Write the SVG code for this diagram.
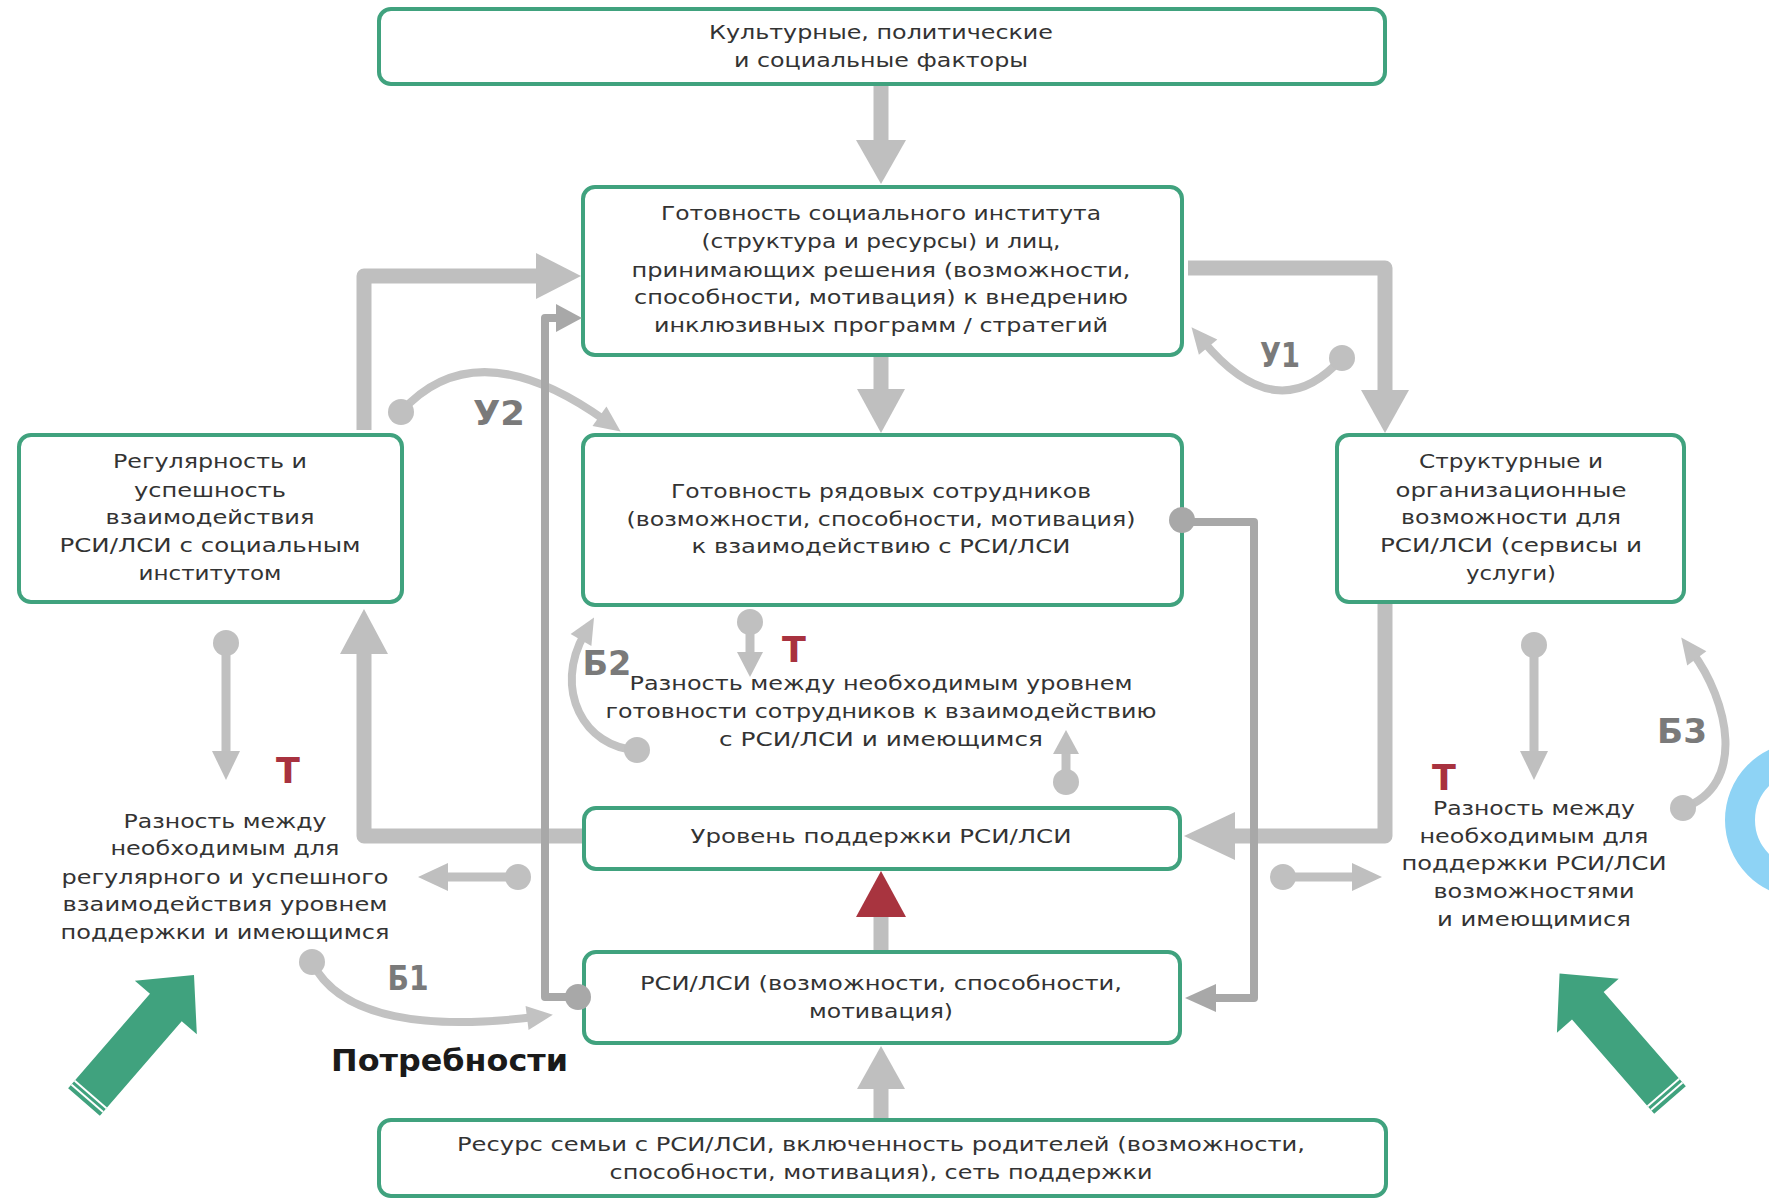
<svg xmlns="http://www.w3.org/2000/svg" width="1769" height="1199" viewBox="0 0 1769 1199">
<style>
.box{fill:#fff;stroke:#40a27e;stroke-width:4}
.t{font-family:"DejaVu Sans","Noto Sans",sans-serif;font-size:20px;fill:#333;text-anchor:middle}
.thick{fill:none;stroke:#bfbfbf;stroke-width:15;stroke-linejoin:round}
.thin{fill:none;stroke:#c0c0c0;stroke-width:9}
.dark{fill:none;stroke:#a8a8a8;stroke-width:8;stroke-linejoin:round}
.curve{fill:none;stroke:#c2c2c2;stroke-width:8}
.hl{fill:#bfbfbf}
.hd{fill:#a8a8a8}
.dot{fill:#c0c0c0}
.lbl{font-family:"DejaVu Sans","Noto Sans",sans-serif;font-weight:bold;font-size:34px;fill:#7a7a7a;text-anchor:middle}
.tt{font-family:"DejaVu Sans","Noto Sans",sans-serif;font-weight:bold;font-size:35px;fill:#a8323f;text-anchor:middle}
.garrow{fill:#40a27e}
</style>
<defs>
<marker id="ch" markerUnits="userSpaceOnUse" markerWidth="30" markerHeight="30" refX="8" refY="12" orient="auto" overflow="visible">
<path d="M0,0 L26,12 L0,24 Z" fill="#c2c2c2"/>
</marker>
<g id="garrowShape">
<polygon points="0,-21 125,-21 125,-41 168,0 125,41 125,21 0,21"/>
<line x1="5" y1="-21" x2="5" y2="21" stroke="#fff" stroke-width="2"/>
<line x1="10" y1="-21" x2="10" y2="21" stroke="#fff" stroke-width="2"/>
</g>
</defs>

<circle cx="1803" cy="820" r="63" fill="none" stroke="#8ed3f5" stroke-width="30"/>

<g id="n-top"><rect class="box" x="379" y="9" width="1006" height="75" rx="12"/>
<text class="t" x="881" y="39" textLength="344" lengthAdjust="spacingAndGlyphs">Культурные, политические</text>
<text class="t" x="881" y="67" textLength="294" lengthAdjust="spacingAndGlyphs">и социальные факторы</text></g>

<g id="n-inst"><rect class="box" x="583" y="187" width="599" height="168" rx="12"/>
<text class="t" x="881" y="220" textLength="440" lengthAdjust="spacingAndGlyphs">Готовность социального института</text>
<text class="t" x="881" y="248" textLength="359" lengthAdjust="spacingAndGlyphs">(структура и ресурсы) и лиц,</text>
<text class="t" x="881" y="277" textLength="499" lengthAdjust="spacingAndGlyphs">принимающих решения (возможности,</text>
<text class="t" x="881" y="304" textLength="494" lengthAdjust="spacingAndGlyphs">способности, мотивация) к внедрению</text>
<text class="t" x="881" y="332" textLength="454" lengthAdjust="spacingAndGlyphs">инклюзивных программ / стратегий</text></g>

<g id="n-staff"><rect class="box" x="583" y="435" width="599" height="170" rx="12"/>
<text class="t" x="881" y="498" textLength="420" lengthAdjust="spacingAndGlyphs">Готовность рядовых сотрудников</text>
<text class="t" x="881" y="526" textLength="509" lengthAdjust="spacingAndGlyphs">(возможности, способности, мотивация)</text>
<text class="t" x="881" y="553" textLength="379" lengthAdjust="spacingAndGlyphs">к взаимодействию с РСИ/ЛСИ</text></g>

<g id="n-regular"><rect class="box" x="19" y="435" width="383" height="167" rx="12"/>
<text class="t" x="210" y="468" textLength="194" lengthAdjust="spacingAndGlyphs">Регулярность и</text>
<text class="t" x="210" y="497" textLength="152" lengthAdjust="spacingAndGlyphs">успешность</text>
<text class="t" x="210" y="524" textLength="209" lengthAdjust="spacingAndGlyphs">взаимодействия</text>
<text class="t" x="210" y="552" textLength="301" lengthAdjust="spacingAndGlyphs">РСИ/ЛСИ с социальным</text>
<text class="t" x="210" y="580" textLength="143" lengthAdjust="spacingAndGlyphs">институтом</text></g>

<g id="n-struct"><rect class="box" x="1337" y="435" width="347" height="167" rx="12"/>
<text class="t" x="1511" y="468" textLength="184" lengthAdjust="spacingAndGlyphs">Структурные и</text>
<text class="t" x="1511" y="497" textLength="231" lengthAdjust="spacingAndGlyphs">организационные</text>
<text class="t" x="1511" y="524" textLength="220" lengthAdjust="spacingAndGlyphs">возможности для</text>
<text class="t" x="1511" y="552" textLength="262" lengthAdjust="spacingAndGlyphs">РСИ/ЛСИ (сервисы и</text>
<text class="t" x="1511" y="580" textLength="90" lengthAdjust="spacingAndGlyphs">услуги)</text></g>

<g id="n-level"><rect class="box" x="584" y="808" width="596" height="61" rx="12"/>
<text class="t" x="881" y="843" textLength="381" lengthAdjust="spacingAndGlyphs">Уровень поддержки РСИ/ЛСИ</text></g>

<g id="n-rsi"><rect class="box" x="584" y="952" width="596" height="91" rx="12"/>
<text class="t" x="881" y="990" textLength="482" lengthAdjust="spacingAndGlyphs">РСИ/ЛСИ (возможности, способности,</text>
<text class="t" x="881" y="1018" textLength="144" lengthAdjust="spacingAndGlyphs">мотивация)</text></g>

<g id="n-family"><rect class="box" x="379" y="1120" width="1007" height="76" rx="12"/>
<text class="t" x="881" y="1151" textLength="848" lengthAdjust="spacingAndGlyphs">Ресурс семьи с РСИ/ЛСИ, включенность родителей (возможности,</text>
<text class="t" x="881" y="1179" textLength="543" lengthAdjust="spacingAndGlyphs">способности, мотивация), сеть поддержки</text></g>

<g id="n-gap-staff">
<text class="t" x="881" y="690" textLength="503" lengthAdjust="spacingAndGlyphs">Разность между необходимым уровнем</text>
<text class="t" x="881" y="718" textLength="551" lengthAdjust="spacingAndGlyphs">готовности сотрудников к взаимодействию</text>
<text class="t" x="881" y="746" textLength="324" lengthAdjust="spacingAndGlyphs">с РСИ/ЛСИ и имеющимся</text></g>

<g id="n-gap-left">
<text class="t" x="225" y="828" textLength="203" lengthAdjust="spacingAndGlyphs">Разность между</text>
<text class="t" x="225" y="855" textLength="229" lengthAdjust="spacingAndGlyphs">необходимым для</text>
<text class="t" x="225" y="884" textLength="327" lengthAdjust="spacingAndGlyphs">регулярного и успешного</text>
<text class="t" x="225" y="911" textLength="325" lengthAdjust="spacingAndGlyphs">взаимодействия уровнем</text>
<text class="t" x="225" y="939" textLength="329" lengthAdjust="spacingAndGlyphs">поддержки и имеющимся</text></g>

<g id="n-gap-right">
<text class="t" x="1534" y="815" textLength="202" lengthAdjust="spacingAndGlyphs">Разность между</text>
<text class="t" x="1534" y="843" textLength="229" lengthAdjust="spacingAndGlyphs">необходимым для</text>
<text class="t" x="1534" y="870" textLength="265" lengthAdjust="spacingAndGlyphs">поддержки РСИ/ЛСИ</text>
<text class="t" x="1534" y="898" textLength="201" lengthAdjust="spacingAndGlyphs">возможностями</text>
<text class="t" x="1534" y="926" textLength="194" lengthAdjust="spacingAndGlyphs">и имеющимися</text></g>

<g id="connectors">
<!-- thick arrows -->
<line class="thick" x1="881" y1="86" x2="881" y2="141"/>
<polygon class="hl" points="856,140 906,140 881,184"/>
<line class="thick" x1="881" y1="357" x2="881" y2="390"/>
<polygon class="hl" points="857,389 905,389 881,433"/>
<path class="thick" d="M1188,268 H1385 V391"/>
<polygon class="hl" points="1361,390 1409,390 1385,433"/>
<path class="thick" d="M364,430 V276 H537"/>
<polygon class="hl" points="536,253 536,299 581,276"/>
<path class="thick" d="M582,836 H364 V653"/>
<polygon class="hl" points="340,654 388,654 364,609"/>
<path class="thick" d="M1385,604 V836 H1234"/>
<polygon class="hl" points="1235,812 1235,860 1184,836"/>
<line class="thick" x1="881" y1="1118" x2="881" y2="1088"/>
<polygon class="hl" points="857,1089 905,1089 881,1046"/>
<line class="thick" x1="881" y1="950" x2="881" y2="916"/>
<polygon fill="#a8343f" points="856,917 906,917 881,871"/>

<!-- curves -->
<path class="curve" d="M401,412 Q476,328 606,421" marker-end="url(#ch)"/>
<circle class="dot" cx="401" cy="412" r="13"/>
<path class="curve" d="M1342,358 Q1277.5,430.5 1203,341" marker-end="url(#ch)"/>
<circle class="dot" cx="1342" cy="358" r="13"/>
<path class="curve" d="M637,750 C585,748 552,690 585,633" marker-end="url(#ch)"/>
<circle class="dot" cx="637" cy="750" r="13"/>
<path class="curve" d="M312,962 C340,1020 430,1030 535,1017" marker-end="url(#ch)"/>
<circle class="dot" cx="312" cy="962" r="13"/>
<path class="curve" d="M1683,808 C1748,785 1728,700 1692,652" marker-end="url(#ch)"/>
<circle class="dot" cx="1683" cy="808" r="13"/>

<!-- small dot arrows -->
<line class="thin" x1="226" y1="643" x2="226" y2="752"/>
<circle class="dot" cx="226" cy="643" r="13"/>
<polygon class="hl" points="212,751 240,751 226,780"/>
<line class="thin" x1="750" y1="622" x2="750" y2="654"/>
<circle class="dot" cx="750" cy="622" r="13"/>
<polygon class="hl" points="737,652 763,652 750,677"/>
<line class="thin" x1="1066" y1="782" x2="1066" y2="752"/>
<circle class="dot" cx="1066" cy="782" r="13"/>
<polygon class="hl" points="1053,754 1079,754 1066,730"/>
<line class="thin" x1="1534" y1="645" x2="1534" y2="752"/>
<circle class="dot" cx="1534" cy="645" r="13"/>
<polygon class="hl" points="1520,751 1548,751 1534,780"/>
<line class="thin" x1="518" y1="877" x2="446" y2="877"/>
<circle class="dot" cx="518" cy="877" r="13"/>
<polygon class="hl" points="448,863 448,891 418,877"/>
<line class="thin" x1="1283" y1="877" x2="1354" y2="877"/>
<circle class="dot" cx="1283" cy="877" r="13"/>
<polygon class="hl" points="1352,863 1352,891 1382,877"/>

<!-- dark lines -->
<path class="dark" d="M578,997 H545 V318 H557"/>
<polygon class="hd" points="556,304 556,332 582,318"/>
<circle class="hd" cx="578" cy="997" r="13"/>
<path class="dark" d="M1182,522 H1254 V998 H1214"/>
<polygon class="hd" points="1216,984 1216,1012 1185,998"/>
<circle class="hd" cx="1182" cy="520" r="13"/>
</g>

<g id="labels">
<text class="lbl" x="1280" y="367" textLength="40" lengthAdjust="spacingAndGlyphs">У1</text>
<text class="lbl" x="499" y="425" textLength="52" lengthAdjust="spacingAndGlyphs">У2</text>
<text class="lbl" x="408" y="990" textLength="41" lengthAdjust="spacingAndGlyphs">Б1</text>
<text class="lbl" x="607" y="675" textLength="49" lengthAdjust="spacingAndGlyphs">Б2</text>
<text class="lbl" x="1682" y="743" textLength="50" lengthAdjust="spacingAndGlyphs">Б3</text>
<text class="tt" x="288" y="783">Т</text>
<text class="tt" x="794" y="662">Т</text>
<text class="tt" x="1444" y="790">Т</text>
<text x="331" y="1071" font-family="DejaVu Sans, Noto Sans, sans-serif" font-weight="bold" font-size="30" fill="#1a1a1a" textLength="237" lengthAdjust="spacingAndGlyphs">Потребности</text>
</g>

<g id="green-arrows" class="garrow">
<use href="#garrowShape" transform="translate(84,1102) rotate(-49.1)"/>
<use href="#garrowShape" transform="translate(1670,1100) rotate(-131.1)"/>
</g>
</svg>
